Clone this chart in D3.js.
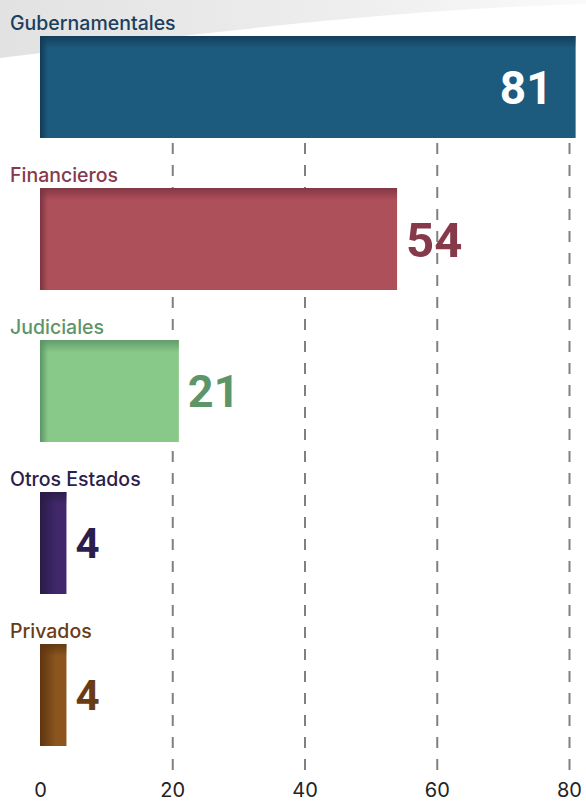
<!DOCTYPE html>
<html>
<head>
<meta charset="utf-8">
<script src="https://cdn.jsdelivr.net/npm/d3@7"></script>
<style>
  body { margin: 0; background: #fff; }
  svg { display: block; }
  .cat { font-family: 'Inter', 'Roboto', sans-serif; font-size: 19.5px; font-weight: 500; }
  .val { font-family: 'Roboto', 'Liberation Sans', sans-serif; font-weight: 700; }
  .axis text { font-family: 'Inter', 'Roboto', sans-serif; font-size: 20px; fill: #222; }
  .grid line { stroke: #808080; stroke-width: 2; stroke-dasharray: 11,11; }
</style>
</head>
<body>
<div id="chart"></div>
<script>
var categories = ['Gubernamentales', 'Financieros', 'Judiciales', 'Otros Estados', 'Privados'];
var values = [81, 54, 21, 4, 4];
var tickValues = [0, 20, 40, 60, 80];
var barColors = ['#1c5a7e', '#ae505a', '#88c888', '#40286a', '#8c551f'];
var darkColors = ['#133a55', '#7a3440', '#5c9466', '#2a1b48', '#5e3510'];
var labelColors = ['#1a3f5c', '#86394a', '#5d9568', '#2b1d4c', '#6a3c14'];

var W = 586, H = 803;

var svg = d3.select('#chart').append('svg')
    .attr('width', W)
    .attr('height', H);

var defs = svg.append('defs');

// soft grey swoosh in the top-left background
var bgGrad = defs.append('linearGradient')
    .attr('id', 'bg-grad')
    .attr('x1', 0).attr('y1', 0).attr('x2', 1).attr('y2', 0);
bgGrad.append('stop').attr('offset', '0%').attr('stop-color', '#e2e2e2');
bgGrad.append('stop').attr('offset', '60%').attr('stop-color', '#eeeeee');
bgGrad.append('stop').attr('offset', '100%').attr('stop-color', '#fafafa');

svg.append('path')
    .attr('d', 'M0,0 L586,0 L586,4 C450,8 300,20 0,58 Z')
    .attr('fill', 'url(#bg-grad)');

var x = d3.scaleLinear()
    .domain([0, 80])
    .range([40, 569]);

var y = d3.scaleBand()
    .domain(categories)
    .range([36, 746])
    .paddingInner(0.329)
    .paddingOuter(0);

// dashed grid lines
svg.append('g')
    .attr('class', 'grid')
    .attr('transform', 'translate(0,770)')
    .call(d3.axisBottom(x).tickValues(tickValues.slice(1)).tickSize(-734).tickFormat(''))
    .call(function(g) { g.select('.domain').remove(); });

// bottom axis labels
svg.append('g')
    .attr('class', 'axis')
    .attr('transform', 'translate(0,779)')
    .call(d3.axisBottom(x).tickValues(tickValues).tickSize(0).tickPadding(0))
    .call(function(g) {
        g.select('.domain').remove();
        g.selectAll('text').attr('dy', '0.9em');
    });

// gradients for bar shading (dark left edge, dark top edge)
categories.forEach(function(c, i) {
    var narrow = values[i] < 10;
    var gh = defs.append('linearGradient')
        .attr('id', 'gh' + i)
        .attr('x1', 0).attr('y1', 0).attr('x2', 1).attr('y2', 0);
    gh.append('stop').attr('offset', '0%').attr('stop-color', darkColors[i]);
    gh.append('stop').attr('offset', narrow ? '60%' : (8 / (x(values[i]) - x(0)) * 100) + '%').attr('stop-color', barColors[i]);
    gh.append('stop').attr('offset', '100%').attr('stop-color', barColors[i]);

    var gv = defs.append('linearGradient')
        .attr('id', 'gv' + i)
        .attr('x1', 0).attr('y1', 0).attr('x2', 0).attr('y2', 1);
    gv.append('stop').attr('offset', '0%').attr('stop-color', darkColors[i]).attr('stop-opacity', 0.85);
    gv.append('stop').attr('offset', '12%').attr('stop-color', darkColors[i]).attr('stop-opacity', 0);
    gv.append('stop').attr('offset', '100%').attr('stop-color', darkColors[i]).attr('stop-opacity', 0);
});

var rows = svg.selectAll('.row')
    .data(categories)
    .enter().append('g')
    .attr('class', 'row');

rows.append('rect')
    .attr('x', x(0))
    .attr('y', function(d) { return y(d); })
    .attr('width', function(d, i) { return x(values[i]) - x(0); })
    .attr('height', y.bandwidth())
    .attr('fill', function(d, i) { return 'url(#gh' + i + ')'; });

rows.append('rect')
    .attr('x', x(0))
    .attr('y', function(d) { return y(d); })
    .attr('width', function(d, i) { return x(values[i]) - x(0); })
    .attr('height', y.bandwidth())
    .attr('fill', function(d, i) { return 'url(#gv' + i + ')'; });

// category labels
rows.append('text')
    .attr('class', 'cat')
    .attr('x', 10)
    .attr('y', function(d) { return y(d) - 6; })
    .attr('fill', function(d, i) { return labelColors[i]; })
    .text(function(d) { return d; });

// value labels - bigger numbers get a slightly bigger font
function valSize(v) {
    if (v > 70) return '46px';
    if (v > 30) return '49px';
    if (v > 10) return '45px';
    return '42px';
}

rows.append('text')
    .attr('class', 'val')
    .attr('x', function(d, i) {
        return values[i] > 70 ? x(values[i]) - 23 : x(values[i]) + 9;
    })
    .attr('y', function(d) { return y(d) + y.bandwidth() / 2; })
    .attr('dy', '0.36em')
    .attr('text-anchor', function(d, i) { return values[i] > 70 ? 'end' : 'start'; })
    .style('font-size', function(d, i) { return valSize(values[i]); })
    .attr('fill', function(d, i) { return values[i] > 70 ? '#fff' : labelColors[i]; })
    .text(function(d, i) { return values[i]; });
</script>
</body>
</html>
